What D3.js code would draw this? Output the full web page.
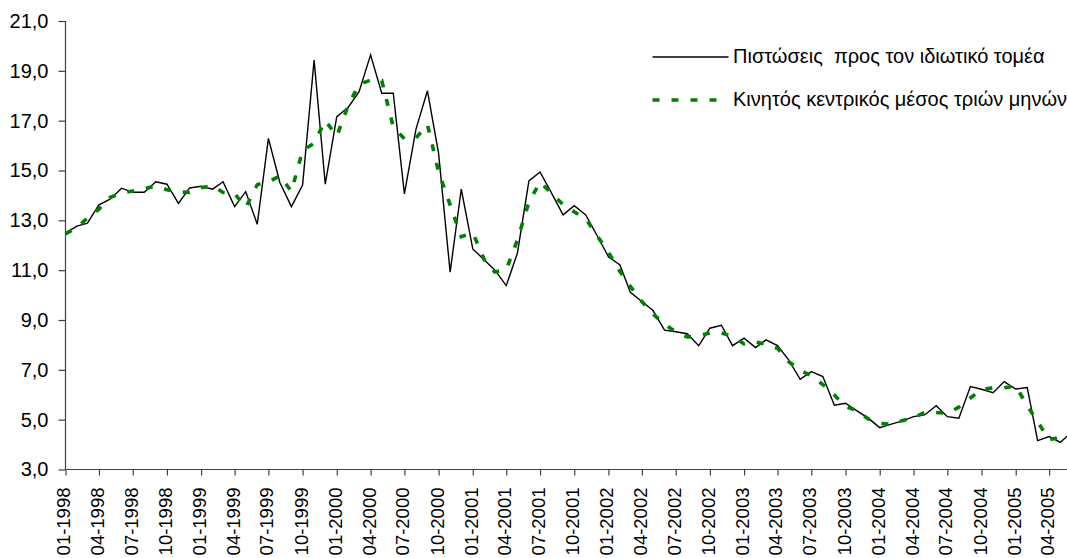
<!DOCTYPE html>
<html>
<head>
<meta charset="utf-8">
<script src="https://cdn.jsdelivr.net/npm/d3@7"></script>
<style>
  body { margin: 0; background: #fff; }
  svg { display: block; font-family: Arial, "Liberation Sans", sans-serif; }
</style>
</head>
<body>
<div id="chart"></div>
<script>
// monthly series, first value is 01-1998
var startMonth = "01-1998";

var credit = [
  12.50, 12.77, 12.89, 13.62, 13.85, 14.29, 14.13, 14.13, 14.55, 14.45, 13.68, 14.30,
  14.37, 14.25, 14.55, 13.55, 14.15, 12.84, 16.29, 14.51, 13.55, 14.42, 19.43, 14.45,
  17.16, 17.54, 18.16, 19.64, 18.10, 18.10, 14.06, 16.65, 18.20, 15.69, 10.92, 14.25,
  11.85, 11.41, 11.01, 10.38, 11.68, 14.58, 14.94, 14.09, 13.22, 13.59, 13.22, 12.40,
  11.54, 11.21, 10.11, 9.74, 9.38, 8.59, 8.53, 8.45, 7.97, 8.67, 8.79, 7.97,
  8.27, 7.89, 8.20, 7.97, 7.40, 6.62, 6.93, 6.73, 5.58, 5.66, 5.35, 5.06,
  4.68, 4.82, 4.94, 5.12, 5.19, 5.56, 5.12, 5.06, 6.33, 6.22, 6.08, 6.53,
  6.23, 6.29, 4.16, 4.32, 4.09, 4.50
];

var movingAvg = [
  12.45, 12.72, 13.09, 13.45, 13.92, 14.09, 14.18, 14.27, 14.38, 14.23, 14.14, 14.12,
  14.31, 14.39, 14.12, 14.08, 13.51, 14.43, 14.55, 14.78, 14.16, 15.80, 16.10, 17.01,
  16.38, 17.62, 18.45, 18.63, 18.61, 16.75, 16.27, 16.30, 16.85, 14.94, 13.62, 12.34,
  12.50, 11.42, 10.93, 11.02, 12.21, 13.73, 14.54, 14.08, 13.63, 13.34, 13.07, 12.39,
  11.72, 10.95, 10.35, 9.74, 9.24, 8.83, 8.52, 8.32, 8.36, 8.48, 8.48, 8.34,
  8.04, 8.12, 8.02, 7.86, 7.33, 6.98, 6.76, 6.41, 5.99, 5.53, 5.36, 5.03,
  4.85, 4.81, 4.96, 5.08, 5.29, 5.29, 5.25, 5.50, 5.87, 6.21, 6.28, 6.28,
  6.35, 5.56, 4.92, 4.19, 4.30, 4.45
];

var tickLabels = [
  "01-1998", "04-1998", "07-1998", "10-1998",
  "01-1999", "04-1999", "07-1999", "10-1999",
  "01-2000", "04-2000", "07-2000", "10-2000",
  "01-2001", "04-2001", "07-2001", "10-2001",
  "01-2002", "04-2002", "07-2002", "10-2002",
  "01-2003", "04-2003", "07-2003", "10-2003",
  "01-2004", "04-2004", "07-2004", "10-2004",
  "01-2005", "04-2005"
];

var yTicks = [3, 5, 7, 9, 11, 13, 15, 17, 19, 21];

var seriesNames = ["Πιστώσεις  προς τον ιδιωτικό τομέα", "Κινητός κεντρικός μέσος τριών μηνών"];

function drawChart() {
  var width = 1067,
      height = 558,
      plotLeft = 65.5,
      plotTop = 21,
      plotBottom = 469.5,
      fontSize = 20,
      xFontSize = 18.5;

  var parseMonth = d3.timeParse("%m-%Y");
  var start = parseMonth(startMonth);

  function monthDate(i) { return d3.timeMonth.offset(start, i); }

  var svg = d3.select("#chart")
    .append("svg")
      .attr("width", width)
      .attr("height", height);

  // date scale, right edge of the picture is mid May 2005
  var x = d3.scaleTime()
    .domain([start, d3.timeDay.offset(start, 2695)])
    .range([plotLeft, width]);

  var y = d3.scaleLinear()
    .domain([3, 21])
    .range([plotBottom, plotTop]);

  var fmt = function(d) { return d3.format(".1f")(d).replace(".", ","); };

  // y axis
  var yAxis = svg.append("g")
    .attr("transform", "translate(" + plotLeft + ",0)")
    .call(d3.axisLeft(y).tickValues(yTicks).tickFormat(fmt).tickSize(7).tickPadding(10));

  // x axis
  var xAxis = svg.append("g")
    .attr("transform", "translate(0," + plotBottom + ")")
    .call(d3.axisBottom(x)
      .tickValues(tickLabels.map(parseMonth))
      .tickFormat(d3.timeFormat("%m-%Y"))
      .tickSize(6)
      .tickSizeOuter(0));

  [yAxis, xAxis].forEach(function(g) {
    g.selectAll("path.domain").attr("stroke", "#404040").attr("stroke-width", 1.2);
    g.selectAll("line").attr("stroke", "#404040").attr("stroke-width", 1.2);
    g.selectAll("text")
      .attr("fill", "#000")
      .style("font-size", fontSize + "px")
      .style("font-family", "Arial, 'Liberation Sans', sans-serif");
  });

  xAxis.selectAll("text")
    .attr("transform", "rotate(-90)")
    .attr("text-anchor", "end")
    .attr("x", -18)
    .attr("y", -2)
    .attr("dy", "0.35em")
    .style("font-size", xFontSize + "px");

  yAxis.select("path.domain").attr("d", "M0," + plotBottom + "V" + plotTop);
  xAxis.select("path.domain").attr("d", "M" + plotLeft + ",0H" + width);

  var line = d3.line()
    .x(function(d, i) { return x(monthDate(i)); })
    .y(function(d) { return y(d); });

  svg.append("path")
    .datum(credit)
    .attr("fill", "none")
    .attr("stroke", "#000")
    .attr("stroke-width", 1.4)
    .attr("d", line);

  svg.append("path")
    .datum(movingAvg)
    .attr("fill", "none")
    .attr("stroke", "#008000")
    .attr("stroke-width", 3.6)
    .attr("stroke-dasharray", "7,12")
    .attr("d", line);

  // legend
  var legend = svg.append("g");
  var legendRows = [
    { name: seriesNames[0], y: 57, color: "#000", w: 1.4, dash: null },
    { name: seriesNames[1], y: 100, color: "#008000", w: 3.6, dash: "7,12" }
  ];

  legendRows.forEach(function(r) {
    legend.append("line")
      .attr("x1", 652.5).attr("x2", 728.5)
      .attr("y1", r.y).attr("y2", r.y)
      .attr("stroke", r.color)
      .attr("stroke-width", r.w)
      .attr("stroke-dasharray", r.dash);
    legend.append("text")
      .attr("x", 733)
      .attr("y", r.y)
      .attr("dy", "0.3em")
      .attr("fill", "#000")
      .style("font-size", fontSize + "px")
      .style("white-space", "pre")
      .text(r.name);
  });
}

drawChart();
</script>
</body>
</html>
